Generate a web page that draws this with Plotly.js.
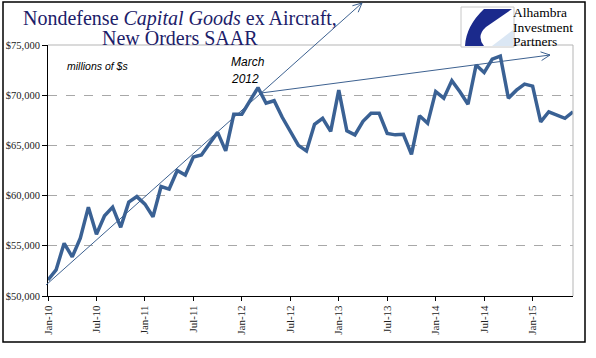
<!DOCTYPE html>
<html>
<head>
<meta charset="utf-8">
<script src="https://cdn.plot.ly/plotly-3.0.1.min.js"></script>
<style>html,body{margin:0;padding:0;background:#fff;}#chart{width:596px;height:358px;}</style>
</head>
<body>
<div id="chart"></div>
<script>
// ---- data ----
const monthNames = ['Jan','Feb','Mar','Apr','May','Jun','Jul','Aug','Sep','Oct','Nov','Dec'];
const years = ['10','11','12','13','14','15'];
const months = [];
years.forEach(y => monthNames.forEach(m => months.push(m + '-' + y)));
months.length = 66; // Jan-10 .. Jun-15

const orders = [
  51600, 52600, 55250, 53900, 55750, 58850, 56150, 58000, 58850, 56850, 59350, 59900,
  59150, 57900, 60900, 60650, 62500, 62050, 63850, 64050, 65200, 66300, 64450, 68100,
  68100, 69500, 70750, 69200, 69450, 67800, 66400, 65000, 64450, 67100, 67700, 66400,
  70500, 66450, 66050, 67400, 68200, 68200, 66200, 66050, 66100, 64100, 67950, 67200,
  70350, 69700, 71450, 70350, 69100, 73000, 72250, 73600, 73900, 69700, 70500, 71100,
  70900, 67350, 68350, 68000, 67700, 68350
];

const tickLabels = ['Jan-10','Jul-10','Jan-11','Jul-11','Jan-12','Jul-12','Jan-13','Jul-13','Jan-14','Jul-14','Jan-15'];
const yTicks = [50000, 55000, 60000, 65000, 70000, 75000];

// ---- layout geometry (pixels) ----
const W = 596, H = 358;
const M = {l: 48, r: 23, t: 45, b: 62};
const PW = W - M.l - M.r, PH = H - M.t - M.b;
const px = x => (x - M.l) / PW;
const py = y => (H - M.b - y) / PH;

function line(x0, y0, x1, y1, color, width, dash) {
  return {type: 'line', xref: 'paper', yref: 'paper', x0: px(x0), y0: py(y0), x1: px(x1), y1: py(y1),
          line: {color: color, width: width, dash: dash || 'solid'}, layer: 'above'};
}
function arrow(x0, y0, x1, y1, color) {
  const dx = x1 - x0, dy = y1 - y0, L = Math.hypot(dx, dy);
  const ux = dx / L, uy = dy / L, a = 0.45, len = 10;
  const out = [line(x0, y0, x1, y1, color, 1)];
  [a, -a].forEach(t => {
    const rx = ux * Math.cos(t) - uy * Math.sin(t);
    const ry = ux * Math.sin(t) + uy * Math.cos(t);
    out.push(line(x1, y1, x1 - rx * len, y1 - ry * len, color, 1));
  });
  return out;
}
function path(pts) {
  return pts.map(p => (px(p[0]) + ',' + py(p[1]))).join(' ');
}

const navy = '#1c2069';
const shapes = [
  // outer frame
  {type: 'rect', xref: 'paper', yref: 'paper', x0: px(3), y0: py(2), x1: px(585), y1: py(342),
   line: {color: '#000', width: 1.5}, layer: 'above'},
  // plot area top & right border
  line(48, 45, 573, 45, '#b5b5b5', 1),
  line(573, 45, 573, 296, '#b5b5b5', 1),
  // logo box
  {type: 'rect', xref: 'paper', yref: 'paper', x0: px(461), y0: py(7), x1: px(514), y1: py(47),
   line: {color: '#c8c8c8', width: 1}, fillcolor: '#ffffff', layer: 'above'},
  {type: 'path', xref: 'paper', yref: 'paper', layer: 'above', line: {width: 0}, fillcolor: '#dbe7f4',
   path: 'M' + path([[492, 46]]) + ' L' + path([[513, 30]]) + ' L' + path([[513, 46]]) + ' Z'},
  {type: 'path', xref: 'paper', yref: 'paper', layer: 'above', line: {width: 0}, fillcolor: '#1b2a8c',
   path: 'M' + path([[484, 9]]) + ' L' + path([[512, 9]]) + ' L' + path([[486, 27]]) +
         ' Q' + path([[476, 36]]) + ' ' + path([[484, 46]]) + ' L' + path([[465, 46]]) +
         ' Q' + path([[466, 26]]) + ' ' + path([[484, 9]]) + ' Z'},
  ...arrow(46, 285, 362, 3, '#3d6190'),
  ...arrow(261, 93, 550, 55, '#3d6190')
];

function note(text, x, y, opts) {
  return Object.assign({text: text, xref: 'paper', yref: 'paper', x: px(x), y: py(y),
    showarrow: false, xanchor: 'left', yanchor: 'middle',
    font: {family: 'Liberation Serif', size: 10, color: '#000'}}, opts || {});
}

const annotations = [
  note('Nondefense <i>Capital Goods</i> ex Aircraft,', 180, 18,
       {xanchor: 'center', font: {family: 'Liberation Serif', size: 20, color: navy}}),
  note('New Orders SAAR', 180, 38,
       {xanchor: 'center', font: {family: 'Liberation Serif', size: 20, color: navy}}),
  note('<i>millions of $s</i>', 65, 66, {font: {family: 'Liberation Sans', size: 10.5, color: '#000'}}),
  note('<i>March</i>', 248, 62, {xanchor: 'center', font: {family: 'Liberation Sans', size: 12, color: '#000'}}),
  note('<i>2012</i>', 245, 79, {xanchor: 'center', font: {family: 'Liberation Sans', size: 12, color: '#000'}}),
  note('Alhambra', 511, 13, {font: {family: 'Liberation Serif', size: 13.5, color: '#000'}}),
  note('Investment', 511, 27, {font: {family: 'Liberation Serif', size: 13.5, color: '#000'}}),
  note('Partners', 511, 41, {font: {family: 'Liberation Serif', size: 13.5, color: '#000'}})
];

const trace = {
  type: 'scatter', mode: 'lines', x: months, y: orders,
  line: {color: '#3a6194', width: 3.5}, hoverinfo: 'skip'
};

const layout = {
  width: W, height: H,
  margin: {l: M.l, r: M.r, t: M.t, b: M.b, pad: 0, autoexpand: false},
  paper_bgcolor: '#fff', plot_bgcolor: '#fff',
  showlegend: false,
  xaxis: {
    type: 'category', range: [0, months.length - 1],
    tickmode: 'array', tickvals: tickLabels, ticktext: tickLabels,
    tickangle: -90, ticks: 'outside', ticklen: 4, tickcolor: '#000', tickwidth: 1,
    showline: true, linecolor: '#000', linewidth: 1, showgrid: false, zeroline: false,
    tickfont: {family: 'Liberation Serif', size: 11, color: '#222'}
  },
  yaxis: {
    range: [50000, 75000], tickmode: 'array', tickvals: yTicks,
    ticktext: yTicks.map(v => '$' + v.toLocaleString('en-US')),
    ticks: 'outside', ticklen: 5, tickcolor: '#000', tickwidth: 1,
    showline: true, linecolor: '#000', linewidth: 1,
    showgrid: true, gridcolor: '#a8a8a8', gridwidth: 1, griddash: 'dash', zeroline: false,
    tickfont: {family: 'Liberation Serif', size: 10.5, color: '#222'}
  },
  shapes: shapes,
  annotations: annotations
};

Plotly.newPlot('chart', [trace], layout, {staticPlot: true, displayModeBar: false});
</script>
</body>
</html>
